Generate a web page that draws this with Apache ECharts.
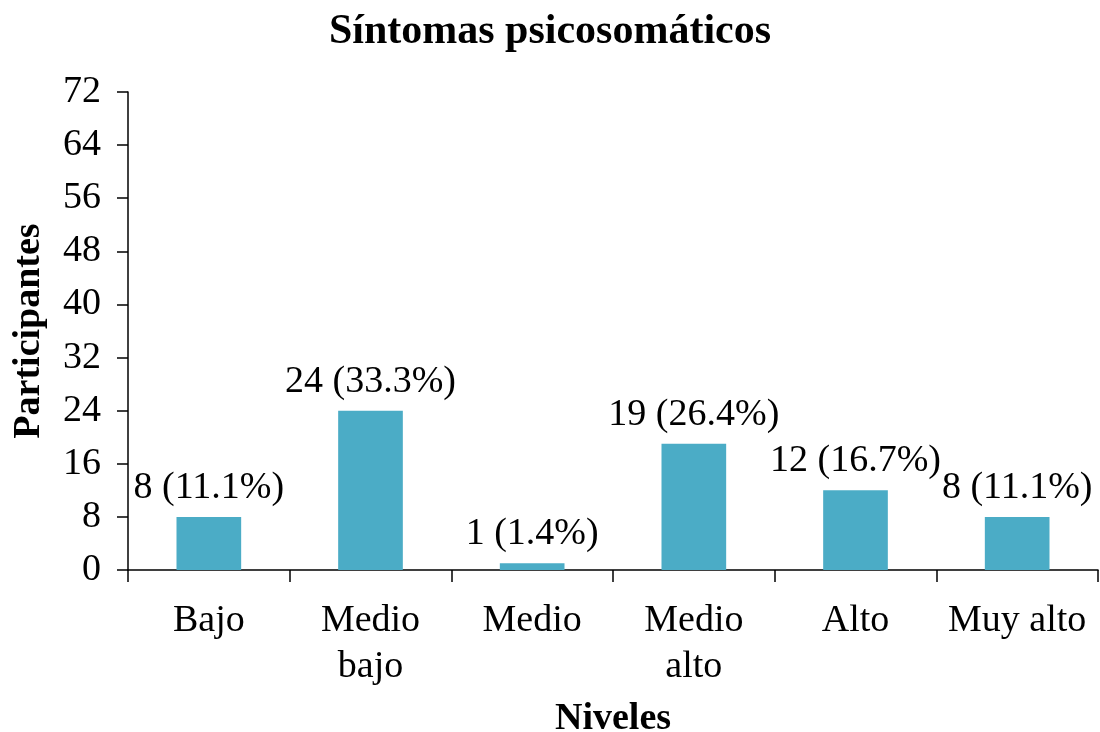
<!DOCTYPE html>
<html>
<head>
<meta charset="utf-8">
<script src="https://cdn.jsdelivr.net/npm/echarts@6/dist/echarts.min.js"></script>
<style>
  html, body { margin: 0; padding: 0; background: #fff; }
  #main { width: 1100px; height: 732px; }
</style>
</head>
<body>
<div id="main"></div>
<script>
const categories = ['Bajo', 'Medio\nbajo', 'Medio', 'Medio\nalto', 'Alto', 'Muy alto'];
const participants = [8, 24, 1, 19, 12, 8];
const percents = ['11.1', '33.3', '1.4', '26.4', '16.7', '11.1'];
const yTicks = { min: 0, max: 72, interval: 8 };

const font = '"Liberation Serif", "DejaVu Serif", serif';

const chart = echarts.init(document.getElementById('main'), null, { renderer: 'canvas' });
chart.setOption({
  animation: false,
  backgroundColor: '#fff',
  title: {
    text: 'Síntomas psicosomáticos',
    left: 'center',
    top: 6,
    textStyle: { fontFamily: font, fontSize: 42, fontWeight: 'bold', color: '#000' },
  },
  grid: { left: 128, right: 2, top: 92, bottom: 162, outerBoundsMode: 'none', containLabel: false },
  xAxis: {
    type: 'category',
    data: categories,
    name: 'Niveles',
    nameLocation: 'middle',
    nameGap: 130,
    nameTextStyle: { fontFamily: font, fontSize: 38, fontWeight: 'bold', color: '#000' },
    axisLine: { lineStyle: { color: '#000', width: 1.5 } },
    axisTick: { show: true, length: 12, alignWithLabel: false, lineStyle: { color: '#000', width: 1.5 } },
    axisLabel: { fontFamily: font, fontSize: 38, color: '#000', margin: 28, lineHeight: 46, interval: 0 },
  },
  yAxis: {
    type: 'value',
    min: yTicks.min,
    max: yTicks.max,
    interval: yTicks.interval,
    name: 'Participantes',
    nameLocation: 'middle',
    nameGap: 80,
    nameTextStyle: { fontFamily: font, fontSize: 38, fontWeight: 'bold', color: '#000' },
    axisLine: { show: true, lineStyle: { color: '#000', width: 1.5 } },
    axisTick: { show: true, length: 11, lineStyle: { color: '#000', width: 1.5 } },
    axisLabel: { fontFamily: font, fontSize: 38, color: '#000', margin: 27 },
    splitLine: { show: false },
  },
  series: [{
    type: 'bar',
    data: participants,
    barWidth: '40%',
    itemStyle: { color: '#4BACC6' },
    label: {
      show: true,
      position: 'top',
      distance: 10,
      fontFamily: font,
      fontSize: 38,
      color: '#000',
      formatter: (p) => p.value + ' (' + percents[p.dataIndex] + '%)',
    },
  }],
});
</script>
</body>
</html>
